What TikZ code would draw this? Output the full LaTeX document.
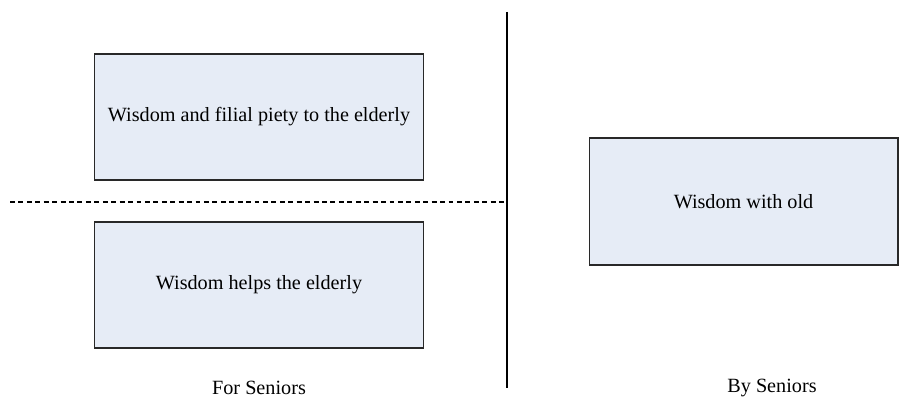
\documentclass[tikz,border=0pt]{standalone}
\usepackage{fontspec}
\setmainfont{Liberation Serif}
\usetikzlibrary{positioning}

\definecolor{boxfill}{RGB}{230,236,246}
\definecolor{boxline}{RGB}{40,40,40}

\tikzset{
    wisebox/.style={draw=boxline,fill=boxfill,line width=0.6pt,
        minimum width=6.6cm,minimum height=2.52cm,font=\fontsize{11.5}{13}\selectfont},
    sidelabel/.style={font=\fontsize{11.5}{13}\selectfont}
}

\begin{document}
\begin{tikzpicture}[x=0.02cm,y=-0.02cm,semithick]

\useasboundingbox (0,0) rectangle (910,398);

\node [wisebox] (filial) at (259,117) {Wisdom and filial piety to the elderly};
\node [wisebox] (helps) at (259,285) {Wisdom helps the elderly};
\node [wisebox,minimum width=6.18cm,minimum height=2.54cm] (old) at (743.5,201.5) {Wisdom with old};

\node [sidelabel] (for) at (259,388) {For Seniors};
\node [sidelabel] (by) at (772,388) {By Seniors};

\coordinate (top) at (507,12);
\coordinate (bot) at (507,388);
\coordinate (left) at (10,202);
\coordinate (mid) at (507,202);

\draw [line width=0.6pt] (top) -- (bot);
\draw [line width=0.6pt,dash pattern=on 2.8pt off 2pt] (left) -- (mid);

\end{tikzpicture}
\end{document}
